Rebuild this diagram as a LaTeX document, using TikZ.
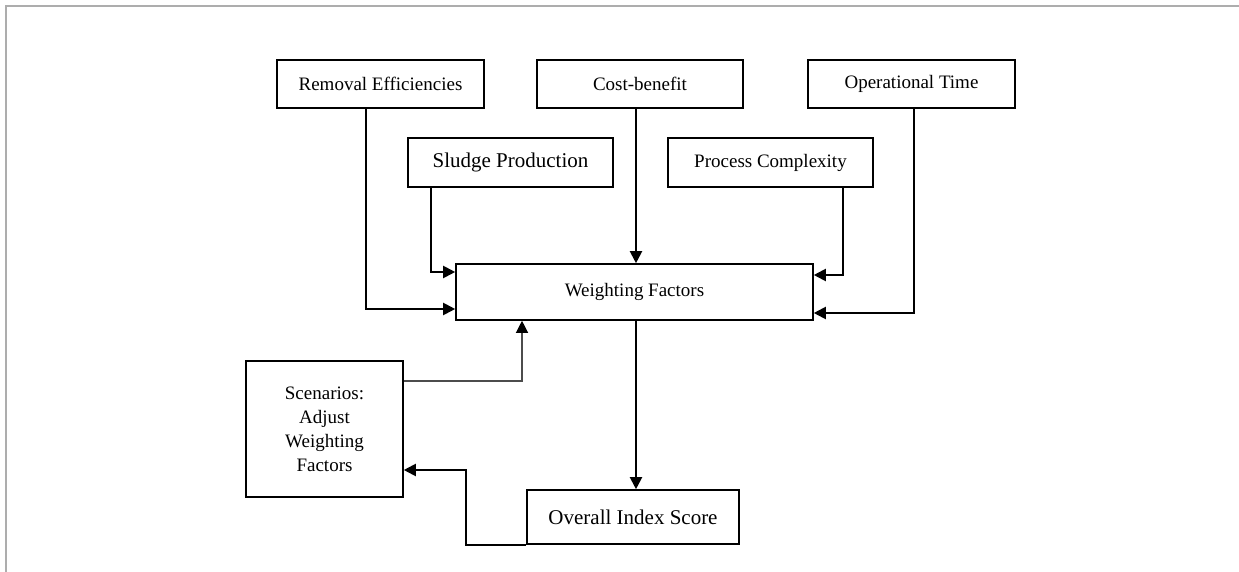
\documentclass[tikz,border=0pt]{standalone}
\usepackage{fontspec}
\setmainfont{Liberation Serif}
\usetikzlibrary{calc,arrows.meta}
\tikzset{
  box/.style={draw=black, line width=0.8pt, rectangle, inner sep=0pt, align=center,
    font=\fontsize{9.5}{12}\selectfont},
  bigbox/.style={box, font=\fontsize{10.5}{13}\selectfont},
  arr/.style={draw=black, line width=1pt, -{Triangle[length=6pt,width=6pt]}},
  thinarr/.style={draw=black!70, line width=0.6pt, -{Triangle[length=6pt,width=6pt,color=black]}},
  frame/.style={draw=black!32, line width=1pt}
}
\begin{document}
\begin{tikzpicture}[x=0.5pt, y=-0.5pt]
\useasboundingbox (0,0) rectangle (1239,572);
\draw[frame] (6,572) -- (6,6) -- (1239,6);

\node[box, minimum width=103.5pt, minimum height=24pt] (rem) at (380.5,84) {Removal Efficiencies};
\node[box, minimum width=103pt, minimum height=24pt] (cost) at (640,84) {Cost-benefit};
\node[box, minimum width=103.5pt, minimum height=24pt] (oper) at (911.5,84) {Operational Time};
\node[bigbox, minimum width=102.5pt, minimum height=24.5pt] (sludge) at (510.5,162.5) {Sludge Production};
\node[box, minimum width=102.5pt, minimum height=24.5pt] (proc) at (770.5,162.5) {Process Complexity};
\node[box, minimum width=178.5pt, minimum height=28pt] (wf) at (634.5,292) {Weighting Factors};
\node[box, minimum width=78.5pt, minimum height=68pt] (scen) at (324.5,429) {Scenarios:\\Adjust\\Weighting\\Factors};
\node[bigbox, minimum width=106pt, minimum height=27pt] (ovr) at (633,517) {Overall Index Score};

\draw[arr] ($(rem.south)+(-14.5,0)$) |- ($(wf.west)+(0,17)$);
\draw[arr] ($(sludge.south)+(-79.5,0)$) |- ($(wf.west)+(0,-20)$);
\draw[arr] ($(cost.south)+(-4,0)$) coordinate (c1) -- (c1 |- wf.north);
\draw[arr] ($(proc.south)+(72.5,0)$) |- ($(wf.east)+(0,-17)$);
\draw[arr] ($(oper.south)+(2.5,0)$) |- ($(wf.east)+(0,21)$);
\draw[thinarr] ($(scen.east)+(0,-48)$) -| ($(wf.south)+(-112.5,0)$);
\draw[arr] ($(wf.south)+(1.5,0)$) coordinate (c2) -- (c2 |- ovr.north);
\draw[arr] (ovr.south west) -| ($(scen.east)+(62,41)$) -- ($(scen.east)+(0,41)$);
\end{tikzpicture}
\end{document}
